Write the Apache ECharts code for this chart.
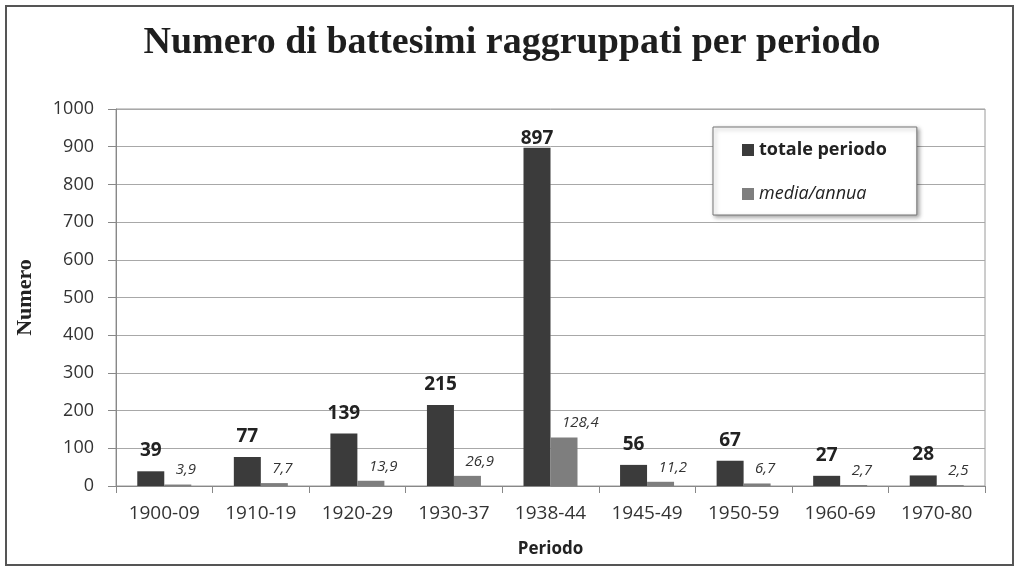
<!DOCTYPE html>
<html>
<head>
<meta charset="utf-8">
<script src="https://cdn.jsdelivr.net/npm/echarts@6/dist/echarts.min.js"></script>
<style>
html,body{margin:0;padding:0;background:#fff;}
#chart{width:1024px;height:575px;}
</style>
</head>
<body>
<div id="chart"></div>
<script>
var categories = ['1900-09','1910-19','1920-29','1930-37','1938-44','1945-49','1950-59','1960-69','1970-80'];
var totalePeriodo = [39, 77, 139, 215, 897, 56, 67, 27, 28];
var mediaAnnua = [3.9, 7.7, 13.9, 26.9, 128.4, 11.2, 6.7, 2.7, 2.5];
var yTicks = [0, 100, 200, 300, 400, 500, 600, 700, 800, 900, 1000];

var chart = echarts.init(document.getElementById('chart'));

var totData = totalePeriodo.map(function (v) {
  var item = { value: v };
  if (v > 850) { item.label = { distance: 0 }; }
  return item;
});

var sans = 'Open Sans';
chart.setOption({
  animation: false,
  backgroundColor: '#ffffff',
  title: {
    text: 'Numero di battesimi raggruppati per periodo',
    left: 'center',
    top: 19,
    textStyle: { fontFamily: 'Liberation Serif', fontWeight: 'bold', fontSize: 38, color: '#1e1e1e' }
  },
  legend: {
    orient: 'vertical',
    left: 713,
    top: 127,
    padding: [14, 30, 12, 29],
    itemGap: 26,
    itemWidth: 12,
    itemHeight: 12,
    icon: 'rect',
    backgroundColor: '#fff',
    borderColor: '#777',
    borderWidth: 1,
    shadowBlur: 4,
    shadowColor: 'rgba(0,0,0,0.35)',
    shadowOffsetX: 2,
    shadowOffsetY: 2,
    textStyle: { fontFamily: sans, fontSize: 18, color: '#222' },
    data: [
      { name: 'totale periodo', textStyle: { fontWeight: 'bold' } },
      { name: 'media/annua', textStyle: { fontStyle: 'italic' } }
    ]
  },
  grid: {
    left: 116, right: 39, top: 109, bottom: 89,
    show: true, borderColor: '#9a9a9a', borderWidth: 1
  },
  xAxis: {
    type: 'category',
    data: categories,
    name: 'Periodo',
    nameLocation: 'middle',
    nameGap: 55,
    nameTextStyle: { fontFamily: sans, fontWeight: 'bold', fontSize: 17, color: '#222' },
    axisLine: { lineStyle: { color: '#888', width: 1 } },
    axisTick: { show: true, length: 7, lineStyle: { color: '#888' } },
    axisLabel: { fontFamily: sans, fontSize: 19, color: '#333', margin: 18 }
  },
  yAxis: {
    type: 'value',
    min: yTicks[0],
    max: yTicks[yTicks.length - 1],
    interval: yTicks[1] - yTicks[0],
    name: 'Numero',
    nameLocation: 'middle',
    nameGap: 80,
    nameRotate: 90,
    nameTextStyle: { fontFamily: 'Liberation Serif', fontWeight: 'bold', fontSize: 22, color: '#222' },
    axisLine: { show: true, lineStyle: { color: '#888', width: 1 } },
    axisTick: { show: true, length: 8, lineStyle: { color: '#888' } },
    splitLine: { lineStyle: { color: '#a8a8a8', width: 1 } },
    axisLabel: {
      fontFamily: sans, fontSize: 18, color: '#333', margin: 22,
      formatter: function (v) { return String(v); }
    }
  },
  series: [
    {
      name: 'totale periodo',
      type: 'bar',
      data: totData,
      barWidth: 27,
      barGap: '0%',
      itemStyle: { color: '#3b3b3b' },
      label: {
        show: true, position: 'top', distance: 11,
        fontFamily: sans, fontWeight: 'bold', fontSize: 19, color: '#222'
      }
    },
    {
      name: 'media/annua',
      type: 'bar',
      data: mediaAnnua,
      barWidth: 27,
      barGap: '0%',
      itemStyle: { color: '#7e7e7e' },
      label: {
        show: true, position: 'top', distance: 7, align: 'left', offset: [-2, 0],
        fontFamily: sans, fontStyle: 'italic', fontSize: 15, color: '#333',
        formatter: function (p) { return p.value.toFixed(1).replace('.', ','); }
      }
    }
  ],
  graphic: [
    {
      type: 'rect',
      shape: { x: 6, y: 6, width: 1007, height: 559 },
      style: { fill: 'none', stroke: '#555', lineWidth: 2 },
      z: 100
    }
  ]
});
</script>
</body>
</html>
